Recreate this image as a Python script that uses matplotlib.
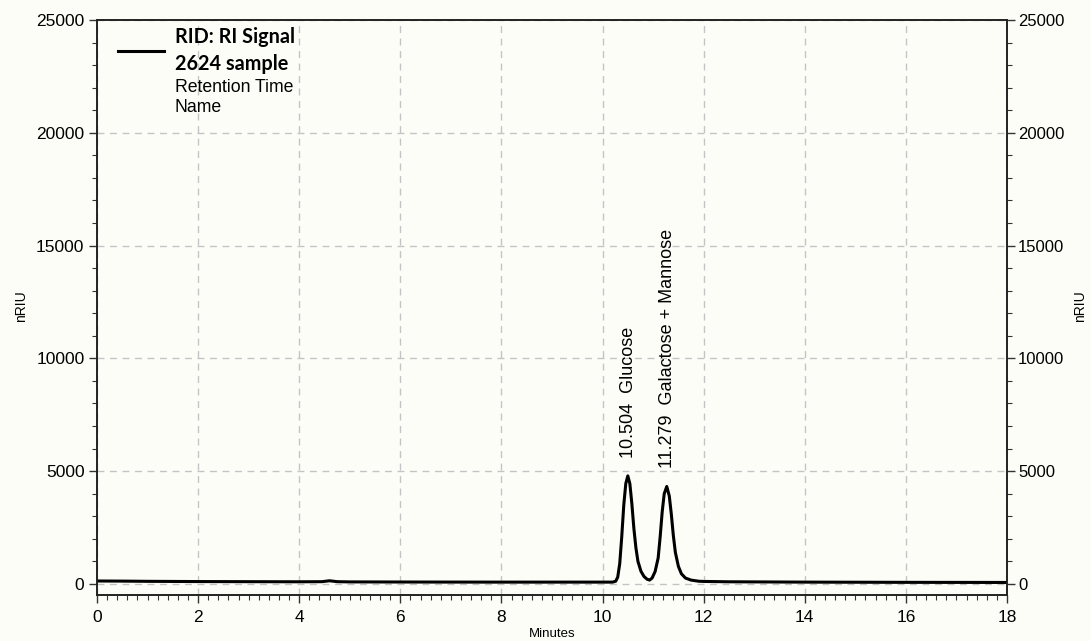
import matplotlib.pyplot as plt
from matplotlib.ticker import MultipleLocator
from matplotlib.lines import Line2D

# RI signal trace (minutes, nRIU)
minutes = [0.0, 0.5, 1.0, 2.0, 3.0, 4.0, 4.45, 4.6, 4.75, 5.0, 6.0, 7.0, 8.0, 9.0, 10.0,
           10.20, 10.26, 10.30, 10.34, 10.38, 10.42, 10.46, 10.50, 10.54, 10.58, 10.62,
           10.66, 10.70, 10.76, 10.82, 10.88, 10.93, 10.98, 11.04, 11.10, 11.14, 11.18,
           11.22, 11.27, 11.32, 11.36, 11.40, 11.44, 11.50, 11.56, 11.64, 11.75, 11.90,
           12.0, 12.5, 14.0, 16.0, 18.0]
signal = [130, 125, 115, 105, 100, 95, 100, 140, 100, 90, 85, 82, 80, 80, 80,
          80, 120, 300, 900, 2100, 3500, 4450, 4790, 4450, 3550, 2450,
          1600, 1000, 560, 330, 210, 170, 260, 550, 1150, 2100, 3200,
          4000, 4320, 3900, 3100, 2150, 1400, 780, 450, 260, 170, 120,
          110, 95, 80, 70, 65]

peak_rt = [10.504, 11.279]
peak_names = ["Glucose", "Galactose + Mannose"]
label_y = [5600, 5150]

bg = "#fdfdf8"
fig = plt.figure(figsize=(10.91, 6.41), dpi=100, facecolor=bg)
ax = fig.add_axes([0.0889, 0.0718, 0.8341, 0.897])
ax.set_facecolor(bg)

ax.plot(minutes, signal, color="black", lw=2.2, zorder=3)

ax.set_xlim(0, 18)
ax.set_ylim(-490, 25000)
ax.xaxis.set_major_locator(MultipleLocator(2))
ax.xaxis.set_minor_locator(MultipleLocator(0.2))
ax.yaxis.set_major_locator(MultipleLocator(5000))
ax.yaxis.set_minor_locator(MultipleLocator(1000))
ax.grid(True, which="major", color="#c4c4c4", ls=(0, (5, 4)), lw=1.0)

ax.tick_params(axis="both", which="major", length=6, width=1, color="#333333", pad=3,
               labelsize=12.5)
ax.tick_params(axis="x", which="major", pad=5)
ax.tick_params(axis="both", which="minor", length=3.5, width=0.8, color="#333333")
for lab in ax.get_xticklabels() + ax.get_yticklabels():
    lab.set_fontfamily("Liberation Sans")

ax2 = ax.twinx()
ax2.set_ylim(ax.get_ylim())
ax2.yaxis.set_major_locator(MultipleLocator(5000))
ax2.yaxis.set_minor_locator(MultipleLocator(1000))
ax2.tick_params(axis="y", which="major", length=6, width=1, color="#333333", pad=2,
                labelsize=12)
ax2.tick_params(axis="y", which="minor", length=3.5, width=0.8, color="#333333")
for lab in ax2.get_yticklabels():
    lab.set_fontfamily("Liberation Sans")

for a in (ax, ax2):
    for sp in a.spines.values():
        sp.set_color("#222222")
        sp.set_linewidth(1.2)

fig.text(0.019, 0.523, "nRIU", rotation=90, ha="center", va="center",
         fontsize=10, family="Liberation Sans")
fig.text(0.990, 0.523, "nRIU", rotation=90, ha="center", va="center",
         fontsize=10, family="Liberation Sans")
fig.text(0.506, 0.002, "Minutes", ha="center", va="bottom",
         fontsize=9.5, family="Liberation Sans")

for rt, name, yy in zip(peak_rt, peak_names, label_y):
    ax.text(rt, yy, f"{rt:.3f}  {name}", rotation=90, ha="center", va="bottom",
            fontsize=13, family="Liberation Sans", zorder=4)

# legend block, upper left
fig.add_artist(Line2D([118 / 1091, 164 / 1091], [1 - 50.5 / 641, 1 - 50.5 / 641],
                      color="black", lw=2.2))
fig.text(175 / 1091, 1 - 37 / 641, "RID: RI Signal", ha="left", va="center",
         fontsize=14.3, fontweight="bold", family="Lato")
fig.text(175 / 1091, 1 - 64 / 641, "2624 sample", ha="left", va="center",
         fontsize=14.3, fontweight="bold", family="Lato")
fig.text(175 / 1091, 1 - 87 / 641, "Retention Time", ha="left", va="center",
         fontsize=12.7, family="Liberation Sans")
fig.text(175 / 1091, 1 - 107 / 641, "Name", ha="left", va="center",
         fontsize=12.7, family="Liberation Sans")

fig.savefig("out.png", dpi=100, facecolor=bg)
